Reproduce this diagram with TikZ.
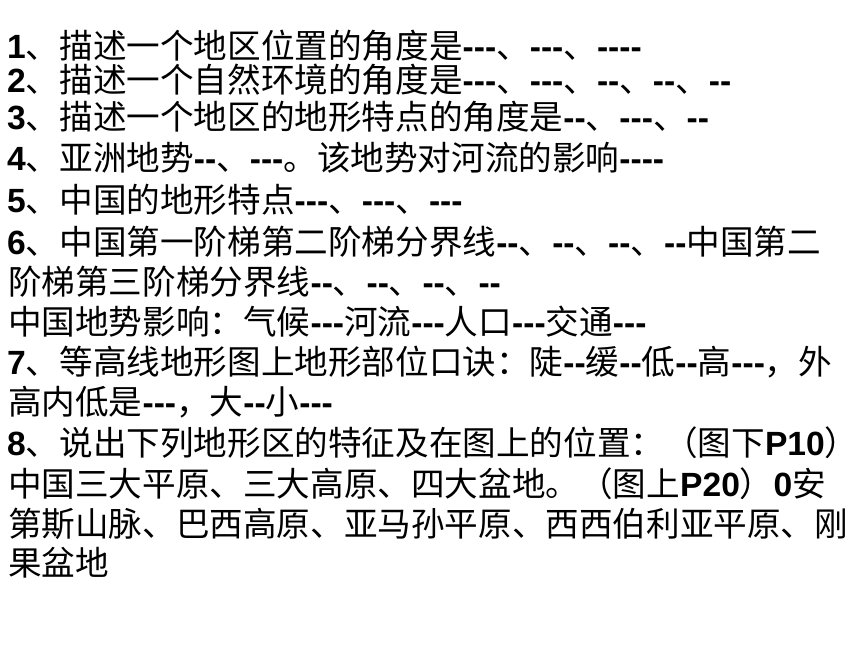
\documentclass[tikz,border=0pt]{standalone}
\usepackage{fontspec}
\setmainfont{Noto Sans CJK SC}
\newfontfamily\latfont{Liberation Sans}
\newcommand{\lat}[1]{{\latfont\bfseries #1}}
\tikzset{
  txtline/.style={anchor=base west, inner sep=0pt, font=\fontsize{33.6}{40}\selectfont}
}
\begin{document}
\begin{tikzpicture}[x=1pt, y=-1pt]
	\useasboundingbox[fill=white] (0, 0) rectangle (860, 645);
	\node[txtline] (l1) at (7, 58) {\lat{1}、描述一个地区位置的角度是\lat{---}、\lat{---}、\lat{----}};
	\node[txtline] (l2) at (7, 92) {\lat{2}、描述一个自然环境的角度是\lat{---}、\lat{---}、\lat{--}、\lat{--}、\lat{--}};
	\node[txtline] (l3) at (7, 129) {\lat{3}、描述一个地区的地形特点的角度是\lat{--}、\lat{---}、\lat{--}};
	\node[txtline] (l4) at (7, 170) {\lat{4}、亚洲地势\lat{--}、\lat{---}。该地势对河流的影响\lat{----}};
	\node[txtline] (l5) at (7, 212) {\lat{5}、中国的地形特点\lat{---}、\lat{---}、\lat{---}};
	\node[txtline] (l6) at (7, 254) {\lat{6}、中国第一阶梯第二阶梯分界线\lat{--}、\lat{--}、\lat{--}、\lat{--}中国第二};
	\node[txtline] (l7) at (8, 294) {阶梯第三阶梯分界线\lat{--}、\lat{--}、\lat{--}、\lat{--}};
	\node[txtline] (l8) at (8, 334) {中国地势影响：气候\lat{---}河流\lat{---}人口\lat{---}交通\lat{---}};
	\node[txtline] (l9) at (7, 374) {\lat{7}、等高线地形图上地形部位口诀：陡\lat{--}缓\lat{--}低\lat{--}高\lat{---}，外};
	\node[txtline] (l10) at (8, 414) {高内低是\lat{---}，大\lat{--}小\lat{---}};
	\node[txtline] (l11) at (7, 455) {\lat{8}、说出下列地形区的特征及在图上的位置：（图下\lat{P10}）};
	\node[txtline] (l12) at (8, 496) {中国三大平原、三大高原、四大盆地。（图上\lat{P20}）\lat{0}安};
	\node[txtline] (l13) at (8, 536) {第斯山脉、巴西高原、亚马孙平原、西西伯利亚平原、刚};
	\node[txtline] (l14) at (8, 575) {果盆地};
\end{tikzpicture}
\end{document}
